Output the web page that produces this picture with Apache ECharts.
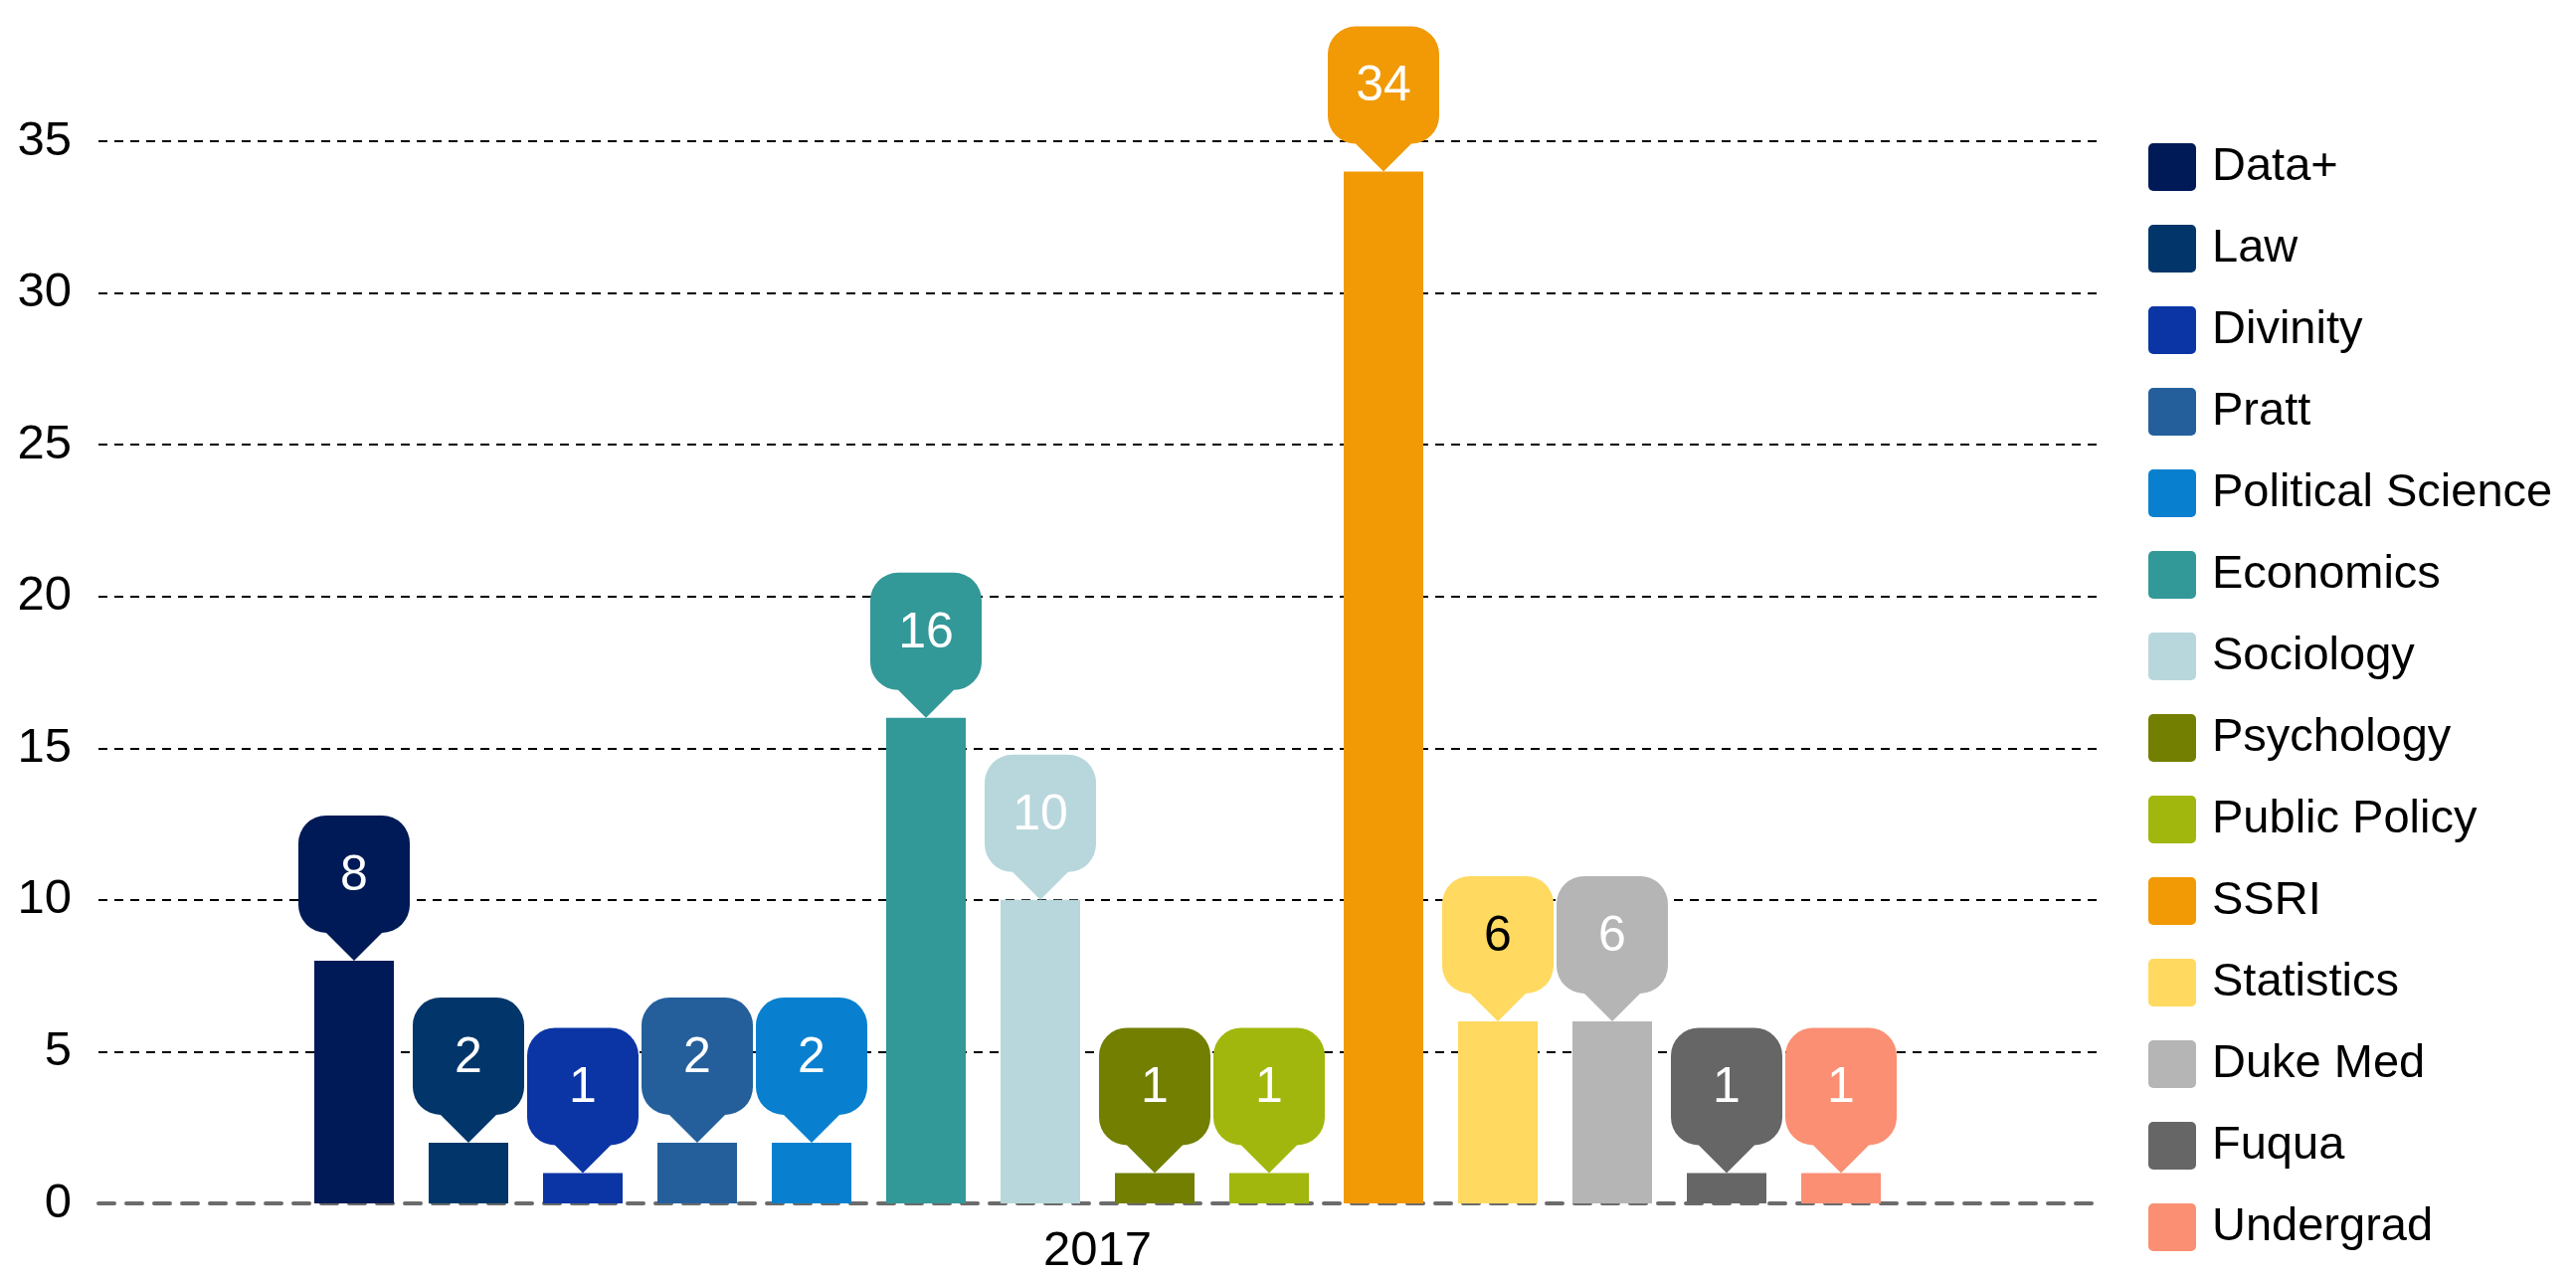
<!doctype html>
<html lang="en">
<head>
  <meta charset="UTF-8">
  <title>2017 by department</title>
  <script src="https://cdn.jsdelivr.net/npm/echarts@6/dist/echarts.min.js"></script>
  <style>
    * {
      margin: 0;
      padding: 0;
    }

    #chart {
      width: 2590px;
      height: 1283px;
      background: #fff;
    }
  </style>
</head>
<body>
<div id="chart"></div>
<script>
  const categories = ['2017']
  const departments = ['Data+', 'Law', 'Divinity', 'Pratt', 'Political Science', 'Economics', 'Sociology',
    'Psychology', 'Public Policy', 'SSRI', 'Statistics', 'Duke Med', 'Fuqua', 'Undergrad']
  const counts = [8, 2, 1, 2, 2, 16, 10, 1, 1, 34, 6, 6, 1, 1]
  const colors = ['#001a57', '#02366a', '#0b35a5', '#245f9c', '#0880cf', '#339898', '#b8d7dc',
    '#727f00', '#a1b70d', '#f19a05', '#ffd960', '#b5b5b5', '#666666', '#fa8f74']
  const labelColors = ['#fff', '#fff', '#fff', '#fff', '#fff', '#fff', '#fff',
    '#fff', '#fff', '#fff', '#000', '#fff', '#fff', '#fff']
  const yTicks = [0, 5, 10, 15, 20, 25, 30, 35]

  const font = 'Liberation Sans, Arial, sans-serif'
  // balloon: rounded box 112x118 + pointer 28 high
  const balloon = 'path://M28,0H84A28,28 0 0 1 112,28V90A28,28 0 0 1 84,118L56,146L28,118A28,28 0 0 1 0,90V28A28,28 0 0 1 28,0Z'
  const legendIcon = 'path://M5,0H43A5,5 0 0 1 48,5V43A5,5 0 0 1 43,48H5A5,5 0 0 1 0,43V5A5,5 0 0 1 5,0Z'

  const series = []
  departments.forEach((name, i) => {
    series.push({
      name: name,
      type: 'bar',
      z: 3,
      barWidth: 80,
      barGap: '43.75%',
      data: [counts[i]],
      itemStyle: {color: colors[i]},
      label: {
        show: true,
        position: 'top',
        distance: 0,
        verticalAlign: 'middle',
        offset: [0, -85],
        color: labelColors[i],
        fontSize: 50,
        fontFamily: font
      }
    })
  })
  // balloon behind each value label
  departments.forEach((name, i) => {
    series.push({
      name: name,
      type: 'pictorialBar',
      z: 2,
      barWidth: 80,
      barGap: '43.75%',
      data: [counts[i]],
      symbol: balloon,
      symbolSize: [112, 146],
      symbolPosition: 'end',
      symbolOffset: [0, '-100%'],
      itemStyle: {color: colors[i]}
    })
  })

  const gridDash = yTicks.map((t, i) => i === 0 ? 'rgba(0,0,0,0)' : '#000')

  const chart = echarts.init(document.getElementById('chart'))
  chart.setOption({
    animation: false,
    grid: {left: 99, right: 482, top: 142, bottom: 70},
    legend: {
      orient: 'vertical',
      left: 2155,
      top: 139,
      itemWidth: 50,
      itemHeight: 48,
      itemGap: 34,
      icon: legendIcon,
      data: departments,
      textStyle: {
        fontSize: 47,
        fontFamily: font,
        color: '#000',
        lineHeight: 48,
        padding: [0, 0, 0, 10]
      }
    },
    xAxis: {
      type: 'category',
      data: categories,
      axisTick: {show: false},
      axisLine: {lineStyle: {color: '#6b6b6b', width: 4, type: [16, 12]}},
      axisLabel: {margin: 24, fontSize: 49, fontFamily: font, color: '#000'}
    },
    yAxis: {
      type: 'value',
      min: yTicks[0],
      max: yTicks[yTicks.length - 1],
      interval: 5,
      axisLine: {show: false},
      axisTick: {show: false},
      axisLabel: {margin: 27, fontSize: 49, fontFamily: font, color: '#000'},
      splitLine: {lineStyle: {color: gridDash, width: 2, type: [9, 7]}}
    },
    series: series
  })
</script>
</body>
</html>
